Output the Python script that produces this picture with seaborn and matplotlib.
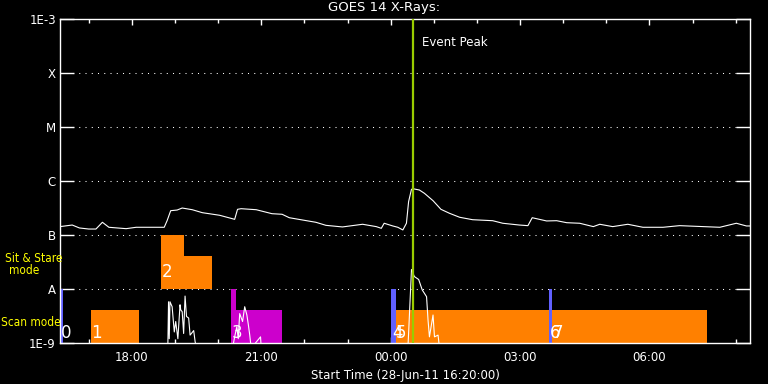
import numpy as np
import pandas as pd
import matplotlib
matplotlib.use("Agg")
import matplotlib.pyplot as plt
import matplotlib.dates as mdates
import matplotlib.ticker as mticker
import seaborn as sns

# ── data ─────────────────────────────────────────────────────────────────────
DAY0 = "2011-06-28"
DAY1 = "2011-06-29"

# long channel (upper curve)
long_times = ["16:20", "16:37", "16:47", "17:00", "17:10", "17:19", "17:28", "17:52",
              "18:06", "18:33", "18:45", "18:49", "18:54", "19:03", "19:10", "19:24",
              "19:38", "20:02", "20:20", "20:23", "20:27", "20:32", "20:53", "21:15",
              "21:29", "21:39", "21:57", "22:16", "22:30", "22:53", "23:21", "23:40",
              "23:47", "23:51", "00:03", "00:10", "00:17", "00:22", "00:25", "00:29",
              "00:33", "00:40", "00:47", "00:59", "01:10", "01:22", "01:36", "01:54",
              "02:22", "02:36", "02:59", "03:11", "03:17", "03:27", "03:37", "03:51",
              "04:05", "04:23", "04:42", "04:51", "05:09", "05:30", "05:51", "06:19",
              "06:42", "07:15", "07:38", "08:01", "08:15", "08:20"]
long_flux = [1.43e-7, 1.53e-7, 1.35e-7, 1.29e-7, 1.29e-7, 1.72e-7, 1.39e-7, 1.31e-7,
             1.39e-7, 1.39e-7, 1.39e-7, 1.84e-7, 2.82e-7, 2.90e-7, 3.16e-7, 2.94e-7,
             2.59e-7, 2.32e-7, 2.00e-7, 1.95e-7, 2.99e-7, 3.07e-7, 2.94e-7, 2.48e-7,
             2.42e-7, 2.09e-7, 1.90e-7, 1.72e-7, 1.51e-7, 1.41e-7, 1.58e-7, 1.43e-7,
             1.33e-7, 1.65e-7, 1.47e-7, 1.39e-7, 1.24e-7, 1.65e-7, 4.14e-7, 7.02e-7,
             7.11e-7, 6.81e-7, 5.92e-7, 4.32e-7, 2.99e-7, 2.52e-7, 2.13e-7, 1.92e-7,
             1.84e-7, 1.65e-7, 1.53e-7, 1.49e-7, 2.09e-7, 1.95e-7, 1.82e-7, 1.84e-7,
             1.69e-7, 1.65e-7, 1.43e-7, 1.58e-7, 1.43e-7, 1.58e-7, 1.39e-7, 1.39e-7,
             1.49e-7, 1.43e-7, 1.39e-7, 1.65e-7, 1.47e-7, 1.47e-7]

# short channel (lower curve, mostly below 1E-9)
short_times = ["16:20", "18:50", "18:51", "18:52", "18:53", "18:56", "18:59", "19:01",
               "19:04", "19:07", "19:08", "19:10", "19:12", "19:14", "19:16", "19:19",
               "19:21", "19:26", "19:28", "19:30", "20:20", "20:23", "20:26", "20:28",
               "20:30", "20:34", "20:37", "20:40", "20:42", "20:44", "20:46", "20:59",
               "21:00", "00:24", "00:25", "00:29", "00:33", "00:39", "00:44", "00:50",
               "00:52", "00:54", "00:59", "01:01", "01:06", "01:08", "08:20"]
short_flux = [8e-10, 8e-10, 5.8e-9, 1.2e-9, 5.8e-9, 4.7e-9, 1.6e-9, 2.5e-9,
              1.2e-9, 5.1e-9, 4.1e-9, 3.8e-9, 1.5e-9, 7.4e-9, 3.1e-9, 2.9e-9,
              1.4e-9, 1.7e-9, 1.06e-9, 8e-10, 8e-10, 1.3e-9, 2.0e-9, 1.2e-9,
              3.5e-9, 2.5e-9, 4.7e-9, 3.3e-9, 2.2e-9, 1.4e-9, 8e-10, 1.3e-9,
              8e-10, 8e-10, 1.5e-9, 2.3e-8, 1.7e-8, 1.5e-8, 9.6e-9, 7.2e-9,
              2.7e-9, 1.3e-9, 3.3e-9, 1.3e-9, 1.4e-9, 8e-10, 8e-10]

# observing-mode blocks
blk_start = ["16:20", "17:03", "18:41", "19:13", "20:18", "20:25", "00:01", "00:07", "03:41", "03:45"]
blk_end   = ["16:24", "18:10", "19:13", "19:52", "20:25", "21:29", "00:07", "03:41", "03:45", "07:20"]
blk_lo    = [1e-9, 1e-9, 1e-8, 1e-8, 1e-9, 1e-9, 1e-9, 1e-9, 1e-9, 1e-9]
blk_hi    = [1e-8, 4.1e-9, 1e-7, 4.1e-8, 1e-8, 4.1e-9, 1e-8, 4.1e-9, 1e-8, 4.1e-9]
blk_color = ["blue", "orange", "orange", "orange", "magenta", "magenta",
             "blue", "orange", "blue", "orange"]
blk_label = ["0", "1", "2", "", "3", "", "4", "5", "6", "7"]

peak_time = "00:31"
y_ticks = [1e-9, 1e-8, 1e-7, 1e-6, 1e-5, 1e-4, 1e-3]
y_labels = ["1E-9", "A", "B", "C", "M", "X", "1E-3"]
x_start, x_end = "16:20", "08:20"

COLORS = {"blue": "#6060FF", "orange": "#FF8000", "magenta": "#CC00CC"}


def to_dt(hhmm):
    day = DAY0 if int(hhmm[:2]) >= 12 else DAY1
    return pd.Timestamp(f"{day} {hhmm}")


long_df = pd.DataFrame({"time": [to_dt(t) for t in long_times], "flux": long_flux})
short_df = pd.DataFrame({"time": [to_dt(t) for t in short_times], "flux": short_flux})

# ── style ────────────────────────────────────────────────────────────────────
sns.set_theme(style="ticks", rc={
    "figure.facecolor": "black", "axes.facecolor": "black",
    "axes.edgecolor": "white", "axes.labelcolor": "white",
    "xtick.color": "white", "ytick.color": "white", "text.color": "white",
})
plt.rcParams["font.family"] = ["DejaVu Sans"]

fig = plt.figure(figsize=(7.68, 3.84), dpi=100)
ax = fig.add_axes([60 / 768, 41 / 384, 690 / 768, 324 / 384])
ax.set_facecolor("black")

# mode blocks
for s, e, lo, hi, c, lab in zip(blk_start, blk_end, blk_lo, blk_hi, blk_color, blk_label):
    x0 = mdates.date2num(to_dt(s))
    x1 = mdates.date2num(to_dt(e))
    ax.bar(x0, hi - lo, width=x1 - x0, bottom=lo, align="edge",
           color=COLORS[c], linewidth=0, zorder=2)
    if lab:
        ylab = 1.55e-9 if lo < 5e-9 else 2.07e-8
        ax.text(x0 + 0.0005, ylab, lab, color="white", fontsize=12,
                ha="left", va="center", zorder=5)

# dotted level lines
for yv in y_ticks[1:-1]:
    ax.axhline(yv, color="white", lw=0.75, ls=(0, (1, 5)), zorder=1)

sns.lineplot(data=long_df, x="time", y="flux", ax=ax, color="white",
             lw=0.8, estimator=None, zorder=4)
sns.lineplot(data=short_df, x="time", y="flux", ax=ax, color="white",
             lw=0.8, estimator=None, zorder=4)

ax.axvline(to_dt(peak_time), color="#99CC00", lw=1.6, zorder=6)
ax.text(to_dt(peak_time) + pd.Timedelta(minutes=13), 3.6e-4, "Event Peak",
        color="white", fontsize=8.5, ha="left", va="center")

# axes
ax.set_yscale("log")
ax.set_ylim(1e-9, 1e-3)
ax.set_xlim(to_dt(x_start), to_dt(x_end))
ax.yaxis.set_major_locator(mticker.FixedLocator(y_ticks))
ax.yaxis.set_major_formatter(mticker.FixedFormatter(y_labels))
ax.yaxis.set_minor_locator(mticker.NullLocator())
ax.xaxis.set_major_locator(mdates.HourLocator(byhour=range(0, 24, 3)))
ax.xaxis.set_minor_locator(mdates.HourLocator())
ax.xaxis.set_major_formatter(mdates.DateFormatter("%H:%M"))

ax.tick_params(axis="y", which="major", direction="in", length=10, width=1,
               left=True, right=True, labelsize=8.5, pad=3)
ax.tick_params(axis="x", which="major", direction="in", length=4.5, width=1,
               top=True, bottom=True, labelsize=8.5, pad=6)
ax.tick_params(axis="x", which="minor", direction="in", length=3, width=1,
               top=True, bottom=True)
for sp in ax.spines.values():
    sp.set_color("white")
    sp.set_linewidth(1)
    sp.set_visible(True)

ax.set_xlabel("Start Time (28-Jun-11 16:20:00)", fontsize=8.5, labelpad=3)
ax.set_ylabel("")
fig.text(0.5, 1 - 8 / 384, "GOES 14 X-Rays:", ha="center", va="center",
         fontsize=9.5, color="white")

# yellow mode captions (left margin)
fig.text(34 / 768, 1 - 258 / 384, "Sit & Stare", color="#FFFF00", fontsize=8.5,
         fontstretch="condensed", ha="center", va="center")
fig.text(24 / 768, 1 - 271 / 384, "mode", color="#FFFF00", fontsize=8.5,
         fontstretch="condensed", ha="center", va="center")
fig.text(1 / 768, 1 - 323 / 384, "Scan mode", color="#FFFF00", fontsize=8.5,
         fontstretch="condensed", ha="left", va="center")

fig.savefig("out.png", dpi=100, facecolor="black")
